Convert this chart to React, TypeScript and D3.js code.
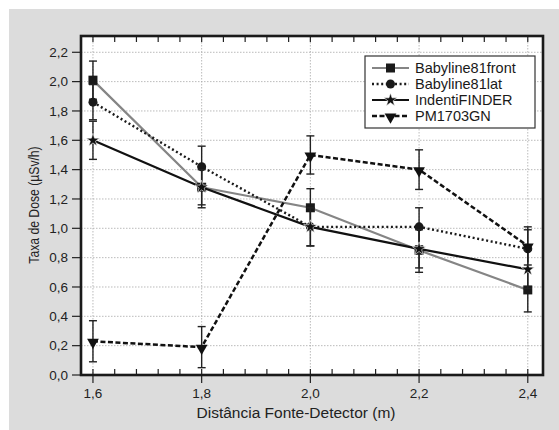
import React from "react";
import * as d3 from "d3";

const distances = [1.6, 1.8, 2.0, 2.2, 2.4];
const xTickLabels = ["1,6", "1,8", "2,0", "2,2", "2,4"];
const yTickValues = [0, 0.2, 0.4, 0.6, 0.8, 1.0, 1.2, 1.4, 1.6, 1.8, 2.0, 2.2];
const yTickLabels = ["0,0", "0,2", "0,4", "0,6", "0,8", "1,0", "1,2", "1,4", "1,6", "1,8", "2,0", "2,2"];

const frontValues = [2.01, 1.28, 1.14, 0.85, 0.58];
const frontErrors = [0.13, 0.14, 0.13, 0.15, 0.15];
const latValues = [1.86, 1.42, 1.01, 1.01, 0.86];
const latErrors = [0.12, 0.14, 0.13, 0.13, 0.13];
const identiValues = [1.6, 1.28, 1.01, 0.86, 0.72];
const identiErrors = [0.13, 0.12, 0.13, 0.13, 0.13];
const pmValues = [0.23, 0.19, 1.5, 1.4, 0.88];
const pmErrors = [0.14, 0.14, 0.13, 0.135, 0.13];

const seriesNames = ["Babyline81front", "Babyline81lat", "IndentiFINDER", "PM1703GN"];

const W = 559;
const H = 430;
const left = 81, right = 543, top = 36, bottom = 375;
const FONT = "'Liberation Sans', Arial, Helvetica, sans-serif";

type Series = {
  name: string;
  values: number[];
  errors: number[];
  color: string;
  dash: string;
  width: number;
  marker: "square" | "circle" | "star" | "triangle";
};

const series: Series[] = [
  { name: seriesNames[0], values: frontValues, errors: frontErrors, color: "#858585", dash: "", width: 2.2, marker: "square" },
  { name: seriesNames[1], values: latValues, errors: latErrors, color: "#1a1a1a", dash: "2,2.6", width: 2.4, marker: "circle" },
  { name: seriesNames[2], values: identiValues, errors: identiErrors, color: "#111", dash: "", width: 2.2, marker: "star" },
  { name: seriesNames[3], values: pmValues, errors: pmErrors, color: "#111", dash: "5,2.5", width: 2.5, marker: "triangle" },
];

function Marker({ kind, cx, cy }: { kind: string; cx: number; cy: number }) {
  if (kind === "square") {
    return <rect x={cx - 4.5} y={cy - 4.5} width={9} height={9} fill="#1a1a1a" />;
  }
  if (kind === "circle") {
    return <circle cx={cx} cy={cy} r={4.5} fill="#1a1a1a" />;
  }
  if (kind === "star") {
    const p = d3.symbol().type(d3.symbolStar).size(55)()!;
    return <path d={p} transform={`translate(${cx},${cy})`} fill="#111" stroke="#fff" strokeWidth={0.6} />;
  }
  const p = d3.symbol().type(d3.symbolTriangle).size(60)()!;
  return <path d={p} transform={`translate(${cx},${cy + 1}) rotate(180)`} fill="#111" />;
}

export default function App() {
  const x = d3.scaleLinear().domain([1.578, 2.428]).range([left, right]);
  const y = d3.scaleLinear().domain([0, 2.311]).range([bottom, top]);
  const minorTicks = d3.range(0, 21).map((i) => 1.6 + i * 0.04);
  const line = d3
    .line<number>()
    .x((_, i) => x(distances[i]))
    .y((d) => y(d));

  const legX = 365, legY = 56, legW = 170, legH = 72;

  return (
    <svg width={W} height={H} style={{ position: "absolute", left: 0, top: 0 }} fontFamily={FONT}>
      <rect x={9} y={9} width={W - 9} height={H - 9} fill="#dcdcdc" />
      <rect x={left} y={top} width={right - left} height={bottom - top} fill="#fff" />

      {/* grid */}
      {distances.map((d, i) => (
        <line key={"gx" + i} x1={x(d)} x2={x(d)} y1={top} y2={bottom} stroke="#aaa" strokeWidth={0.8} strokeDasharray="1.5,1.5" />
      ))}
      {yTickValues.slice(1).map((v, i) => (
        <line key={"gy" + i} x1={left} x2={right} y1={y(v)} y2={y(v)} stroke="#aaa" strokeWidth={0.8} strokeDasharray="1.5,1.5" />
      ))}

      {/* minor ticks top and bottom */}
      {minorTicks.map((t, i) => {
        const major = i % 5 === 0;
        return (
          <g key={"mt" + i}>
            <line x1={x(t)} x2={x(t)} y1={top} y2={top + 6} stroke="#222" strokeWidth={1.2} />
            <line x1={x(t)} x2={x(t)} y1={bottom - 6} y2={major ? bottom + 8 : bottom} stroke="#222" strokeWidth={1.2} />
          </g>
        );
      })}

      {/* y ticks */}
      {yTickValues.map((v, i) => (
        <g key={"yt" + i}>
          <line x1={left - 9} x2={left} y1={y(v)} y2={y(v)} stroke="#222" strokeWidth={1.2} />
          <text x={left - 13} y={y(v)} dy="0.35em" textAnchor="end" fontSize={13.5} fill="#222">
            {yTickLabels[i]}
          </text>
        </g>
      ))}
      {distances.map((d, i) => (
        <text key={"xl" + i} x={x(d)} y={398} textAnchor="middle" fontSize={13.5} fill="#222">
          {xTickLabels[i]}
        </text>
      ))}

      {/* series */}
      {series.map((s, si) => (
        <g key={"s" + si}>
          <path d={line(s.values)!} fill="none" stroke={s.color} strokeWidth={s.width} strokeDasharray={s.dash || undefined} />
          {s.values.map((v, i) => {
            const cx = x(distances[i]);
            const y1 = y(v + s.errors[i]);
            const y2 = y(v - s.errors[i]);
            return (
              <g key={"e" + i} stroke="#222" strokeWidth={1.4}>
                <line x1={cx} x2={cx} y1={y1} y2={y2} />
                <line x1={cx - 4} x2={cx + 4} y1={y1} y2={y1} />
                <line x1={cx - 4} x2={cx + 4} y1={y2} y2={y2} />
              </g>
            );
          })}
          {s.values.map((v, i) => (
            <Marker key={"m" + i} kind={s.marker} cx={x(distances[i])} cy={y(v)} />
          ))}
        </g>
      ))}

      {/* frame */}
      <rect x={left} y={top} width={right - left} height={bottom - top} fill="none" stroke="#1a1a1a" strokeWidth={2.6} />

      {/* legend */}
      <rect x={legX} y={legY} width={legW} height={legH} fill="#fff" stroke="#333" strokeWidth={1.2} />
      {series.map((s, i) => {
        const cy = legY + 12 + i * 16;
        return (
          <g key={"lg" + i}>
            <line x1={legX + 7} x2={legX + 44} y1={cy} y2={cy} stroke={s.color} strokeWidth={s.width} strokeDasharray={s.dash || undefined} />
            <Marker kind={s.marker} cx={legX + 25.5} cy={cy} />
            <text x={legX + 50} y={cy} dy="0.36em" fontSize={14.5} fill="#1a1a1a">
              {s.name}
            </text>
          </g>
        );
      })}

      {/* axis labels */}
      <text x={296} y={418} textAnchor="middle" fontSize={15.5} fill="#222">
        Distância Fonte-Detector (m)
      </text>
      <text transform="translate(39,205) scale(1.15,1) rotate(-90)" textAnchor="middle" fontSize={12.2} fill="#222">
        Taxa de Dose (µSv/h)
      </text>
    </svg>
  );
}
